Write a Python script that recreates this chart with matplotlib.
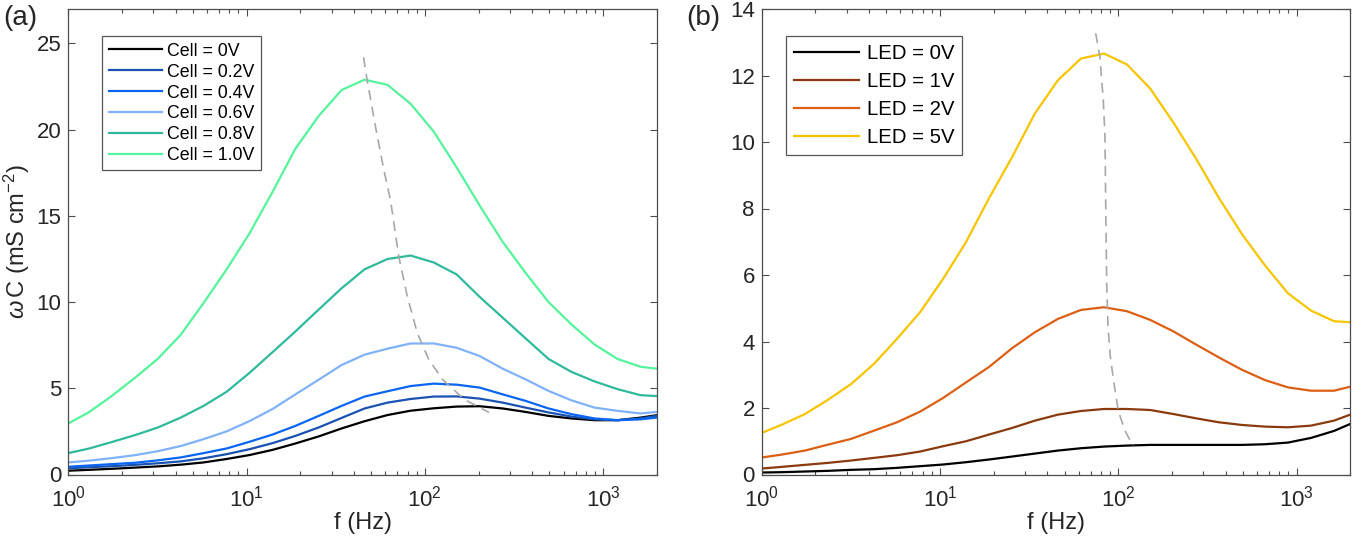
import matplotlib
matplotlib.use('Agg')
import matplotlib.pyplot as plt
from matplotlib.ticker import LogLocator, NullFormatter, FixedLocator

plt.rcParams['font.family'] = ['Liberation Sans', 'DejaVu Sans']
plt.rcParams['mathtext.fontset'] = 'custom'
plt.rcParams['mathtext.rm'] = 'Liberation Sans'
plt.rcParams['mathtext.it'] = 'Liberation Sans:italic'
plt.rcParams['mathtext.bf'] = 'Liberation Sans:bold'

# ---------------- data ----------------
freq = [1.0, 1.30, 1.75, 2.36, 3.17, 4.27, 5.74, 7.73, 10.4, 14.0, 18.8, 25.4, 34.1,
        45.9, 61.8, 83.2, 112, 151, 203, 273, 367, 494, 665, 895, 1205, 1622, 2000]

cell_labels = ['Cell = 0V', 'Cell = 0.2V', 'Cell = 0.4V', 'Cell = 0.6V', 'Cell = 0.8V', 'Cell = 1.0V']
cell_0 = [0.22, 0.27, 0.33, 0.40, 0.47, 0.57, 0.70, 0.90, 1.13, 1.43, 1.80, 2.21, 2.67,
          3.09, 3.45, 3.70, 3.84, 3.94, 3.96, 3.83, 3.63, 3.40, 3.25, 3.15, 3.15, 3.30, 3.44]
cell_02 = [0.36, 0.42, 0.48, 0.56, 0.65, 0.76, 0.94, 1.18, 1.47, 1.82, 2.24, 2.73, 3.28,
           3.83, 4.17, 4.38, 4.52, 4.53, 4.40, 4.17, 3.88, 3.60, 3.36, 3.20, 3.15, 3.25, 3.40]
cell_04 = [0.45, 0.52, 0.60, 0.68, 0.82, 0.99, 1.24, 1.51, 1.90, 2.32, 2.82, 3.40, 3.98,
           4.52, 4.83, 5.13, 5.27, 5.21, 5.04, 4.65, 4.27, 3.83, 3.50, 3.25, 3.15, 3.20, 3.30]
cell_06 = [0.70, 0.80, 0.95, 1.12, 1.35, 1.65, 2.05, 2.50, 3.10, 3.80, 4.65, 5.50, 6.35,
           6.95, 7.30, 7.60, 7.60, 7.35, 6.87, 6.14, 5.52, 4.85, 4.30, 3.88, 3.69, 3.54, 3.63]
cell_08 = [1.24, 1.50, 1.88, 2.28, 2.72, 3.30, 3.98, 4.80, 5.90, 7.10, 8.30, 9.57, 10.8,
           11.9, 12.5, 12.7, 12.3, 11.6, 10.3, 9.10, 7.90, 6.70, 5.95, 5.40, 4.95, 4.60, 4.55]
cell_10 = [2.96, 3.60, 4.55, 5.60, 6.70, 8.10, 9.95, 11.9, 14.0, 16.4, 18.9, 20.8, 22.3,
           22.9, 22.6, 21.5, 19.9, 17.8, 15.6, 13.5, 11.7, 10.0, 8.70, 7.54, 6.70, 6.25, 6.14]
cell_colors = ['#000000', '#1a52b2', '#0a66f2', '#80b2fa', '#2fba9c', '#55f39b']

led_labels = ['LED = 0V', 'LED = 1V', 'LED = 2V', 'LED = 5V']
led_0 = [0.06, 0.07, 0.09, 0.11, 0.14, 0.16, 0.20, 0.25, 0.30, 0.37, 0.45, 0.54, 0.63,
         0.72, 0.79, 0.84, 0.87, 0.89, 0.89, 0.89, 0.89, 0.89, 0.91, 0.96, 1.10, 1.31, 1.52]
led_1 = [0.18, 0.23, 0.29, 0.35, 0.42, 0.50, 0.58, 0.69, 0.85, 1.00, 1.20, 1.40, 1.62,
         1.80, 1.91, 1.97, 1.97, 1.94, 1.82, 1.69, 1.57, 1.49, 1.44, 1.42, 1.47, 1.62, 1.80]
led_2 = [0.51, 0.60, 0.72, 0.90, 1.07, 1.32, 1.57, 1.89, 2.30, 2.77, 3.23, 3.80, 4.28,
         4.68, 4.95, 5.03, 4.91, 4.65, 4.31, 3.91, 3.52, 3.15, 2.84, 2.62, 2.52, 2.52, 2.64]
led_5 = [1.25, 1.50, 1.82, 2.25, 2.72, 3.33, 4.08, 4.88, 5.88, 6.99, 8.30, 9.55, 10.86,
         11.86, 12.51, 12.66, 12.33, 11.61, 10.6, 9.50, 8.32, 7.23, 6.29, 5.45, 4.93, 4.61, 4.58]
led_colors = ['#000000', '#8b3a0e', '#dc5f14', '#f7c500']

# peak-tracking dashed guides
peak_a_f = [45.3, 47.4, 52.8, 58.8, 64.2, 71.4, 79.7, 90.6, 105, 126, 166, 229]
peak_a_v = [24.2, 22.9, 20.2, 17.7, 15.9, 12.65, 10.34, 8.22, 6.68, 5.5, 4.36, 3.6]
peak_b_f = [74.7, 78.9, 82.4, 84.2, 85.0, 86.1, 87.5, 90.0, 93.7, 100, 109, 121]
peak_b_v = [13.27, 12.56, 11.26, 10.2, 8.24, 5.8, 4.5, 3.6, 2.9, 1.92, 1.32, 0.86]

# ---------------- figure ----------------
W, H = 1368, 542
fig = plt.figure(figsize=(W / 100, H / 100), dpi=100)
ax_top, ax_bot = 9, 474.5
axh = (ax_bot - ax_top) / H
axw = 588.5 / W
axA = fig.add_axes([68.3 / W, (H - ax_bot) / H, axw, axh])
axB = fig.add_axes([761.7 / W, (H - ax_bot) / H, axw, axh])

spine_col = '#4d4d4d'
text_col = '#262626'


def style(ax, ymax, yticks):
    ax.set_xscale('log')
    ax.set_xlim(1, 2000)
    ax.set_ylim(0, ymax)
    ax.yaxis.set_major_locator(FixedLocator(yticks))
    ax.xaxis.set_major_locator(LogLocator(base=10, numticks=10))
    ax.xaxis.set_minor_locator(LogLocator(base=10, subs=range(2, 10), numticks=20))
    ax.xaxis.set_minor_formatter(NullFormatter())
    ax.tick_params(which='both', direction='in', top=True, right=True,
                   colors=spine_col, labelcolor=text_col, labelsize=16, width=0.8)
    ax.tick_params(which='major', length=5)
    ax.tick_params(which='minor', length=3)
    ax.tick_params(axis='x', which='major', pad=8)
    ax.tick_params(axis='y', which='major', pad=5)
    for s in ax.spines.values():
        s.set_color(spine_col)
        s.set_linewidth(0.9)
    ax.set_xlabel('f (Hz)', fontsize=17, color=text_col, labelpad=0)


# panel (a)
for vals, lab, col in zip([cell_0, cell_02, cell_04, cell_06, cell_08, cell_10], cell_labels, cell_colors):
    axA.plot(freq, vals, color=col, lw=1.6, label=lab)
axA.plot(peak_a_f, peak_a_v, color='#a8a8a8', lw=1.2, ls=(0, (6, 4)))
style(axA, 27, [0, 5, 10, 15, 20, 25])
axA.set_ylabel(r'$\omega\,$C (mS cm$^{-2}$)', fontsize=17, color=text_col, labelpad=3)
legA = axA.legend(loc='upper left', bbox_to_anchor=(0.058, 0.941), fontsize=12.8,
                  handlelength=3.0, handletextpad=0.3, labelspacing=0.22,
                  borderpad=0.35, borderaxespad=0, fancybox=False, framealpha=1)
legA.get_frame().set_edgecolor('#555555')
legA.get_frame().set_linewidth(0.9)

# panel (b)
for vals, lab, col in zip([led_0, led_1, led_2, led_5], led_labels, led_colors):
    axB.plot(freq, vals, color=col, lw=1.6, label=lab)
axB.plot(peak_b_f, peak_b_v, color='#a8a8a8', lw=1.2, ls=(0, (6, 4)))
style(axB, 14, [0, 2, 4, 6, 8, 10, 12, 14])
legB = axB.legend(loc='upper left', bbox_to_anchor=(0.041, 0.942), fontsize=14.7,
                  handlelength=3.2, handletextpad=0.4, labelspacing=0.45,
                  borderpad=0.38, borderaxespad=0, fancybox=False, framealpha=1)
legB.get_frame().set_edgecolor('#555555')
legB.get_frame().set_linewidth(0.9)

fig.text(3 / W, 1 - 18 / H, '(a)', fontsize=20, color=text_col, va='center', ha='left')
fig.text(686 / W, 1 - 18 / H, '(b)', fontsize=20, color=text_col, va='center', ha='left')

fig.savefig('out.png', dpi=100)
